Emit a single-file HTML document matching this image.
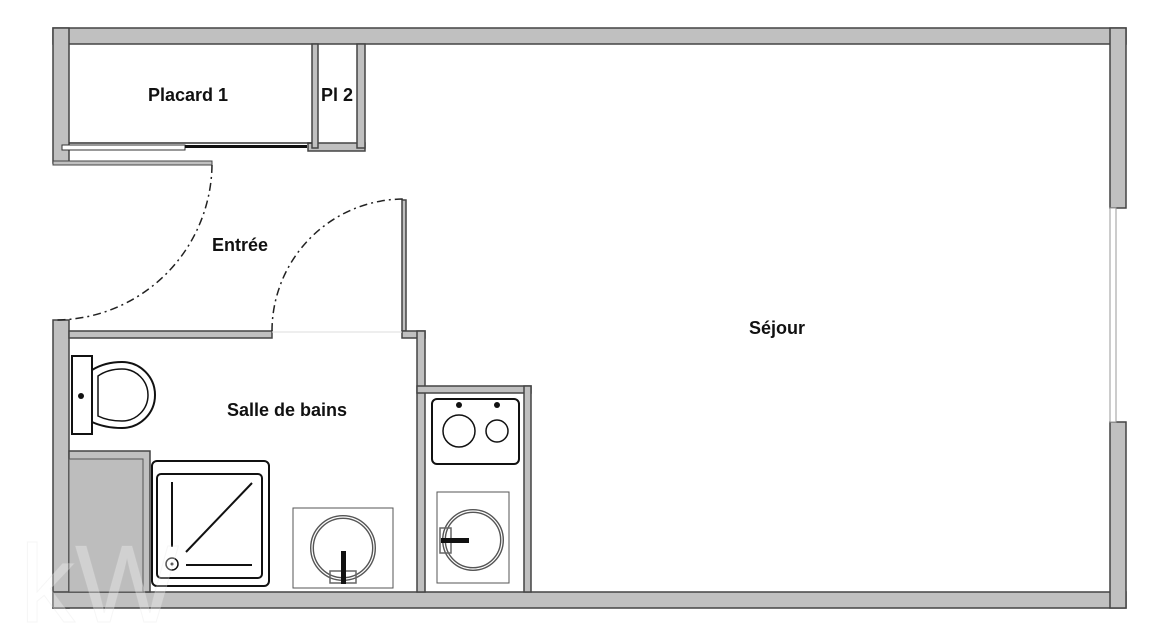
<!DOCTYPE html>
<html><head><meta charset="utf-8"><style>
html,body{margin:0;padding:0;background:#fff;width:1166px;height:644px;overflow:hidden}
text{font-family:"Liberation Sans",sans-serif;font-weight:bold;font-size:18px;fill:#111}
</style></head><body>
<svg width="1166" height="644" viewBox="0 0 1166 644" xmlns="http://www.w3.org/2000/svg">
<g fill="#c0c0c0" stroke="#444" stroke-width="1.5">
<rect x="53" y="28" width="1073" height="16"/>
<rect x="53" y="28" width="16" height="135"/>
<rect x="53" y="320" width="16" height="288"/>
<rect x="53" y="592" width="1073" height="16"/>
<rect x="1110" y="28" width="16" height="180"/>
<rect x="1110" y="422" width="16" height="186"/>
<rect x="308" y="143" width="57" height="8"/>
<rect x="312" y="44" width="6" height="104"/>
<rect x="357" y="44" width="8" height="104"/>
<rect x="69" y="331" width="203" height="7"/>
<rect x="402" y="200" width="4" height="131"/>
<rect x="402" y="331" width="23" height="7"/>
<rect x="417" y="331" width="8" height="261"/>
<rect x="417" y="386" width="114" height="7"/>
<rect x="524" y="386" width="7" height="206"/>
<rect x="69" y="451" width="81" height="141"/>
</g>
<rect x="69" y="459" width="74" height="133" fill="#bdbdbd" stroke="#555" stroke-width="1"/>
<line x1="69" y1="143" x2="312" y2="143" stroke="#333" stroke-width="1.5"/>
<rect x="1110" y="208" width="6" height="214" fill="#fff" stroke="#999" stroke-width="1"/>
<rect x="62" y="145" width="123" height="5" fill="#fff" stroke="#333" stroke-width="1"/>
<rect x="185" y="145" width="122" height="3" fill="#111"/>
<rect x="53" y="161" width="159" height="4" fill="#c0c0c0" stroke="#444" stroke-width="1"/>
<g fill="none" stroke="#222" stroke-width="1.5" stroke-dasharray="8 4 2 4">
<path d="M212 165 A157 157 0 0 1 55 320"/>
<path d="M272 331 A132 132 0 0 1 404 199"/>
</g>
<line x1="272" y1="332" x2="402" y2="332" stroke="#ddd" stroke-width="1"/>
<rect x="72" y="356" width="20" height="78" fill="#fff" stroke="#111" stroke-width="2"/>
<circle cx="81" cy="396" r="3" fill="#111"/>
<path d="M92 370 Q105 362 122 362 A33 33 0 0 1 122 428 Q105 428 92 422 Z" fill="#fff" stroke="#111" stroke-width="2"/>
<path d="M98 376 Q108 369 122 369 A26 26 0 0 1 122 421 Q108 421 98 416 Z" fill="none" stroke="#111" stroke-width="1.5"/>
<rect x="152" y="461" width="117" height="125" rx="5" fill="#fff" stroke="#111" stroke-width="2"/>
<rect x="157" y="474" width="105" height="104" rx="4" fill="none" stroke="#111" stroke-width="2"/>
<line x1="172" y1="482" x2="172" y2="547" stroke="#111" stroke-width="2"/>
<line x1="186" y1="552" x2="252" y2="483" stroke="#111" stroke-width="2"/>
<line x1="186" y1="565" x2="252" y2="565" stroke="#111" stroke-width="2"/>
<circle cx="172" cy="564" r="6" fill="none" stroke="#111" stroke-width="1.5"/>
<circle cx="172" cy="564" r="1.5" fill="#111"/>
<rect x="293" y="508" width="100" height="80" fill="#fff" stroke="#555" stroke-width="1"/>
<circle cx="343" cy="548" r="31" fill="none" stroke="#555" stroke-width="4"/>
<circle cx="343" cy="548" r="31" fill="none" stroke="#fff" stroke-width="1.2"/>
<rect x="330" y="571" width="26" height="12" fill="none" stroke="#666" stroke-width="1.5"/>
<rect x="341" y="551" width="5" height="33" fill="#111"/>
<rect x="432" y="399" width="87" height="65" rx="5" fill="#fff" stroke="#111" stroke-width="2"/>
<circle cx="459" cy="431" r="16" fill="none" stroke="#111" stroke-width="1.5"/>
<circle cx="497" cy="431" r="11" fill="none" stroke="#111" stroke-width="1.5"/>
<circle cx="459" cy="405" r="3" fill="#111"/>
<circle cx="497" cy="405" r="3" fill="#111"/>
<rect x="437" y="492" width="72" height="91" fill="#fff" stroke="#555" stroke-width="1"/>
<circle cx="473" cy="540" r="29" fill="none" stroke="#555" stroke-width="4"/>
<circle cx="473" cy="540" r="29" fill="none" stroke="#fff" stroke-width="1.2"/>
<rect x="440" y="528" width="11" height="25" fill="none" stroke="#666" stroke-width="1.5"/>
<rect x="441" y="538" width="28" height="5" fill="#111"/>
<text x="188" y="101" text-anchor="middle">Placard 1</text>
<text x="337" y="101" text-anchor="middle">Pl 2</text>
<text x="240" y="251" text-anchor="middle">Entrée</text>
<text x="287" y="416" text-anchor="middle">Salle de bains</text>
<text x="777" y="334" text-anchor="middle">Séjour</text>
<text x="20" y="622" style="font-size:110px;font-weight:normal;fill:#fff;fill-opacity:0.3;stroke:#ddd;stroke-opacity:0.25">kW</text>
</svg>
</body></html>
